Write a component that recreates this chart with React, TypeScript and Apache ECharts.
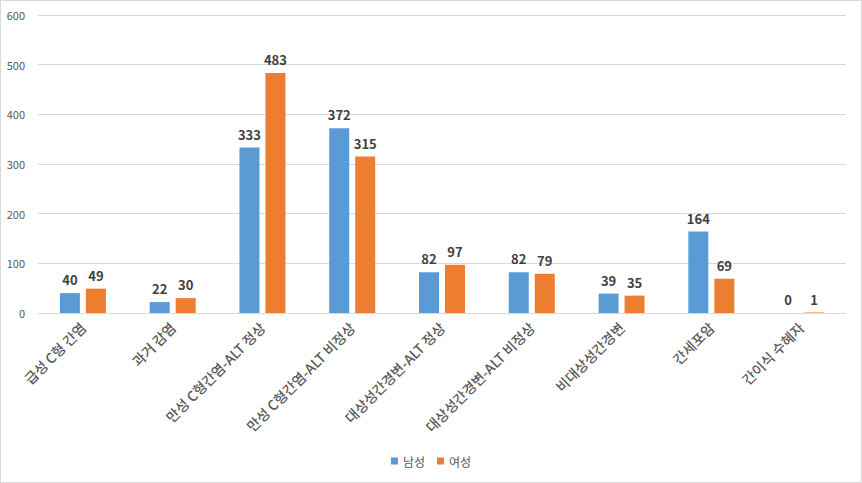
import React, { useEffect, useRef } from "react";
import * as echarts from "echarts";

const categories = [
  "급성 C형 간염",
  "과거 감염",
  "만성 C형간염-ALT 정상",
  "만성 C형간염-ALT 비정상",
  "대상성간경변-ALT 정상",
  "대상성간경변-ALT 비정상",
  "비대상성간경변",
  "간세포암",
  "간이식 수혜자",
];
const male = [40, 22, 333, 372, 82, 82, 39, 164, 0];
const female = [49, 30, 483, 315, 97, 79, 35, 69, 1];
const seriesNames = ["남성", "여성"];
const yTicks = { min: 0, max: 600, interval: 100 };

const FONT = "'Noto Sans CJK KR', 'Noto Sans', sans-serif";

export default function App() {
  const ref = useRef<HTMLDivElement>(null);
  useEffect(() => {
    if (!ref.current) return;
    const chart = echarts.init(ref.current, undefined, { renderer: "svg" });
    const label = {
      show: true,
      position: "top",
      distance: 7,
      fontFamily: FONT,
      fontSize: 13,
      fontWeight: "bold",
      color: "#404040",
    };
    chart.setOption({
      animation: false,
      textStyle: { fontFamily: FONT },
      grid: { left: 37, right: 15, top: 14, bottom: 169, containLabel: false },
      legend: {
        bottom: 10,
        left: "center",
        itemWidth: 7,
        itemHeight: 7,
        itemGap: 12,
        icon: "rect",
        textStyle: { fontFamily: FONT, fontSize: 12, color: "#595959" },
        data: seriesNames,
      },
      xAxis: {
        type: "category",
        data: categories,
        axisLine: { lineStyle: { color: "#d9d9d9" } },
        axisTick: { show: false },
        axisLabel: {
          interval: 0,
          rotate: 45,
          fontFamily: FONT,
          fontSize: 14,
          fontWeight: 500,
          color: "#595959",
          margin: 12,
        },
      },
      yAxis: {
        type: "value",
        min: yTicks.min,
        max: yTicks.max,
        interval: yTicks.interval,
        axisLine: { show: false },
        axisTick: { show: false },
        splitLine: { lineStyle: { color: "#d9d9d9" } },
        axisLabel: { fontFamily: FONT, fontSize: 11, color: "#595959", margin: 13 },
      },
      series: [
        {
          name: seriesNames[0],
          type: "bar",
          data: male,
          barWidth: 20,
          barGap: "30%",
          itemStyle: { color: "#5b9bd5" },
          label,
        },
        {
          name: seriesNames[1],
          type: "bar",
          data: female,
          barWidth: 20,
          barGap: "30%",
          itemStyle: { color: "#ed7d31" },
          label,
        },
      ],
    });
    return () => chart.dispose();
  }, []);
  return (
    <div
      style={{
        position: "absolute",
        left: 0,
        top: 0,
        width: 862,
        height: 483,
        boxSizing: "border-box",
        border: "1px solid #d9d9d9",
        background: "#fff",
      }}
    >
      <div ref={ref} style={{ width: 860, height: 481 }} />
    </div>
  );
}
